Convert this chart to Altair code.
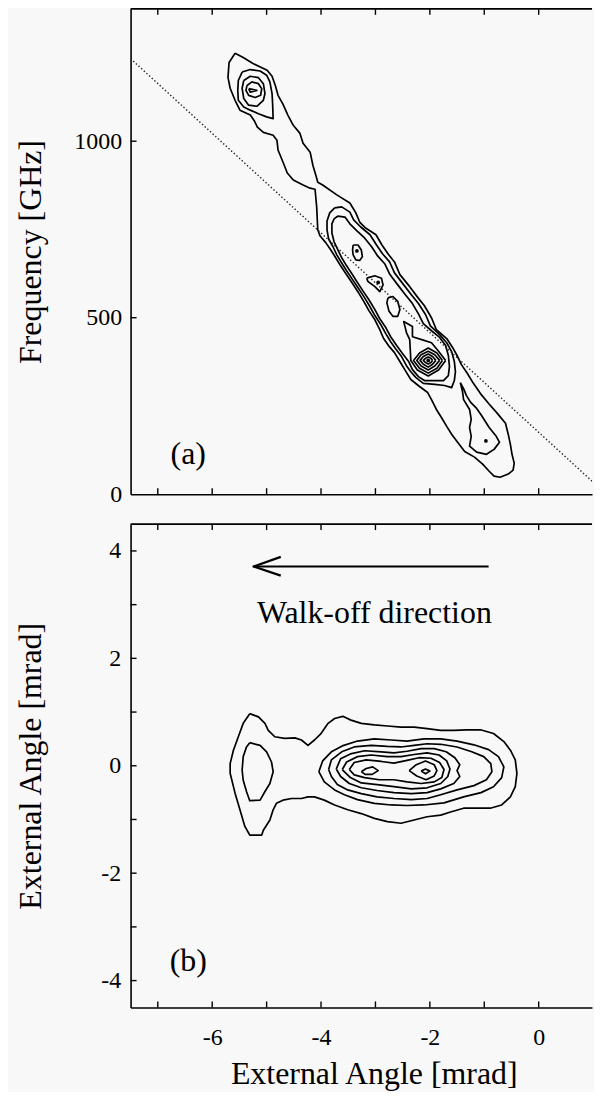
import altair as alt
import pandas as pd

FONT = "Liberation Serif"
W, HA, HB = 463, 487, 485

# ---------------- axes ----------------
x_domain = [-7.5, 0.98]
freq_domain = [0, 1375]
ang_domain = [-4.5, 4.5]
x_tick_marks = [-7, -6, -5, -4, -3, -2, -1, 0]
x_labels_b = [-6, -4, -2, 0]
freq_labels = [0, 500, 1000]
freq_tick_marks = [500, 1000]
ang_labels = [-4, -2, 0, 2, 4]
ang_tick_marks = [-4, -3, -2, -1, 0, 1, 2, 3, 4]

# ---------------- panel (a): contours (x in mrad, y in GHz) ----------------
a_outer_x = [-5.58, -5.43, -5.25, -4.99, -4.90, -4.84, -4.79, -4.70, -4.61, -4.51, -4.39, -4.33, -4.20, -4.15,
             -4.09, -4.06, -3.97, -3.71, -3.47, -3.36, -3.29, -3.18, -2.99, -2.88, -2.77, -2.65, -2.55, -2.37,
             -2.23, -2.10, -1.97, -1.88, -1.69, -1.58, -1.49, -1.42, -1.31, -1.20, -1.07, -0.92, -0.76, -0.61,
             -0.56, -0.52, -0.49, -0.45, -0.47, -0.56, -0.71, -0.82, -0.91, -1.03, -1.18, -1.36, -1.49, -1.60,
             -1.69, -1.79, -1.88, -1.97, -2.04, -2.19, -2.35, -2.45, -2.54, -2.65, -2.76, -2.85, -2.92, -3.01,
             -3.12, -3.21, -3.32, -3.43, -3.54, -3.64, -3.73, -3.82, -3.91, -4.02, -4.06, -4.08, -4.11, -4.20,
             -4.33, -4.51, -4.62, -4.70, -4.79, -4.81, -4.88, -5.06, -5.17, -5.23, -5.30, -5.49, -5.58, -5.67,
             -5.71, -5.69]
a_outer_y = [1249, 1237, 1220, 1201, 1184, 1158, 1130, 1105, 1074, 1045, 1023, 994, 969, 932, 901, 884, 876, 848,
             825, 797, 771, 754, 735, 706, 681, 658, 622, 588, 559, 534, 500, 466, 441, 415, 390, 367, 342, 314,
             285, 257, 229, 201, 170, 141, 113, 88, 68, 57, 48, 51, 65, 85, 105, 121, 147, 170, 192, 218, 240,
             268, 288, 305, 325, 350, 373, 401, 421, 441, 466, 494, 520, 545, 573, 599, 624, 647, 670, 692, 712,
             732, 749, 814, 864, 867, 876, 890, 910, 941, 975, 1003, 1017, 1025, 1040, 1059, 1074, 1088, 1116,
             1150, 1181, 1223]

a_top1_x = [-5.45, -5.30, -5.12, -5.00, -4.94, -4.90, -4.89, -4.88, -5.00, -5.15, -5.30, -5.42, -5.52, -5.53, -5.52]
a_top1_y = [1196, 1203, 1199, 1187, 1168, 1135, 1107, 1064, 1069, 1078, 1088, 1097, 1116, 1144, 1172]
a_top2_x = [-5.42, -5.30, -5.15, -5.06, -5.03, -5.06, -5.18, -5.33, -5.42, -5.45]
a_top2_y = [1172, 1184, 1180, 1163, 1135, 1116, 1099, 1102, 1121, 1150]
a_top3_x = [-5.36, -5.27, -5.15, -5.09, -5.11, -5.21, -5.33, -5.38]
a_top3_y = [1158, 1168, 1163, 1149, 1130, 1124, 1130, 1144]
a_top4_x = [-5.33, -5.18, -5.30]
a_top4_y = [1149, 1144, 1139]

a_band2_x = [-3.75, -3.62, -3.47, -3.40, -3.27, -3.10, -2.98, -2.87, -2.74, -2.65, -2.48, -2.34, -2.21, -2.08,
             -1.99, -1.82, -1.69, -1.60, -1.55, -1.53, -1.55, -1.60, -1.73, -1.91, -2.12, -2.26, -2.35, -2.43,
             -2.52, -2.63, -2.72, -2.81, -2.90, -3.01, -3.10, -3.21, -3.32, -3.43, -3.53, -3.62, -3.71, -3.78,
             -3.86, -3.89, -3.89, -3.84]
a_band2_y = [811, 814, 799, 777, 757, 735, 706, 681, 658, 627, 593, 565, 540, 509, 477, 452, 429, 404, 376, 347,
             322, 302, 308, 311, 314, 331, 347, 364, 390, 412, 432, 455, 480, 506, 531, 559, 585, 610, 633, 655,
             678, 701, 723, 749, 774, 797]
a_band3_x = [-3.69, -3.56, -3.47, -3.34, -3.20, -3.07, -2.96, -2.83, -2.74, -2.59, -2.45, -2.32, -2.21, -2.12,
             -1.97, -1.82, -1.71, -1.66, -1.64, -1.66, -1.75, -1.90, -2.10, -2.21, -2.32, -2.39, -2.50, -2.61,
             -2.72, -2.81, -2.92, -3.01, -3.12, -3.23, -3.34, -3.43, -3.53, -3.62, -3.69, -3.76, -3.80, -3.80,
             -3.76]
a_band3_y = [788, 785, 766, 746, 726, 701, 675, 653, 624, 593, 565, 540, 511, 483, 463, 444, 421, 393, 362, 336,
             322, 322, 322, 333, 353, 376, 398, 421, 446, 472, 497, 523, 551, 576, 602, 624, 647, 670, 692, 715,
             740, 766, 780]

a_loop1_x = [-3.41, -3.32, -3.26, -3.24, -3.29, -3.36, -3.41, -3.42]
a_loop1_y = [706, 706, 692, 673, 662, 664, 678, 692]
a_loop2_x = [-3.16, -3.01, -2.89, -2.86, -2.92, -3.01, -3.14]
a_loop2_y = [612, 619, 612, 593, 574, 588, 603]
a_loop3_x = [-2.77, -2.68, -2.59, -2.55, -2.59, -2.68, -2.75, -2.79]
a_loop3_y = [556, 560, 546, 523, 504, 504, 518, 542]

a_peak5_x = [-1.71, -1.84, -2.03, -2.23, -2.35, -2.36, -2.37, -2.43, -2.48, -2.32, -2.32, -2.15, -1.97, -1.84]
a_peak5_y = [379, 352, 335, 352, 379, 410, 438, 458, 489, 475, 446, 438, 429, 405]
a_peak4_x = [-1.77, -1.87, -2.03, -2.19, -2.30, -2.19, -2.03, -1.87]
a_peak4_y = [379, 357, 343, 357, 379, 400, 414, 400]
a_peak3_x = [-1.82, -1.91, -2.03, -2.16, -2.24, -2.16, -2.03, -1.91]
a_peak3_y = [379, 363, 352, 363, 379, 395, 405, 395]
a_peak2_x = [-1.89, -1.95, -2.03, -2.12, -2.18, -2.12, -2.03, -1.95]
a_peak2_y = [379, 368, 360, 368, 379, 390, 397, 390]
a_peak1_x = [-1.95, -1.98, -2.03, -2.08, -2.12, -2.08, -2.03, -1.98]
a_peak1_y = [379, 373, 369, 373, 379, 385, 389, 385]

a_tail_x = [-1.44, -1.40, -1.38, -1.27, -1.24, -1.27, -1.24, -1.27, -1.14, -0.96, -0.82, -0.72, -0.78, -0.91,
            -0.98, -1.05, -1.14, -1.25, -1.33, -1.38]
a_tail_y = [316, 291, 268, 240, 212, 189, 164, 136, 119, 113, 127, 147, 164, 189, 206, 223, 243, 260, 280, 299]

a_dots_x = [-3.34, -2.95, -2.03, -0.97]
a_dots_y = [689, 600, 379, 151]

# dotted reference line, read where it enters and leaves the visible frame
a_line_x = [-7.5, 0.98]
a_line_y = [1234, 37]

# ---------------- panel (b): contours (both axes in mrad) ----------------
b_outer_x = [-5.31, -5.15, -5.03, -4.97, -4.85, -4.67, -4.48, -4.36, -4.24, -4.12, -4.00, -3.87, -3.75, -3.60,
             -3.45, -3.26, -3.02, -2.78, -2.53, -2.29, -2.05, -1.80, -1.56, -1.32, -1.07, -0.83, -0.64, -0.52,
             -0.43, -0.40, -0.43, -0.52, -0.68, -0.89, -1.13, -1.38, -1.62, -1.80, -2.05, -2.29, -2.53, -2.78,
             -3.02, -3.26, -3.51, -3.75, -3.94, -4.12, -4.24, -4.36, -4.54, -4.70, -4.82, -4.88, -4.94, -5.06,
             -5.09, -5.31, -5.40, -5.49, -5.58, -5.67, -5.67, -5.61, -5.52, -5.43]
b_outer_y = [0.97, 0.91, 0.79, 0.66, 0.54, 0.51, 0.52, 0.48, 0.38, 0.48, 0.60, 0.79, 0.88, 0.92, 0.85, 0.79,
             0.76, 0.74, 0.72, 0.72, 0.69, 0.66, 0.66, 0.67, 0.67, 0.60, 0.45, 0.29, 0.11, -0.14, -0.39, -0.58,
             -0.73, -0.79, -0.79, -0.79, -0.86, -0.92, -0.95, -1.01, -1.07, -1.04, -0.98, -0.89, -0.82, -0.73,
             -0.64, -0.58, -0.58, -0.61, -0.61, -0.64, -0.70, -0.82, -1.01, -1.20, -1.29, -1.29, -1.13, -0.82,
             -0.51, -0.14, 0.04, 0.29, 0.54, 0.79]
b_lobe_x = [-5.31, -5.12, -5.00, -4.91, -4.88, -4.94, -5.03, -5.12, -5.31, -5.37, -5.43, -5.45, -5.43, -5.37]
b_lobe_y = [0.43, 0.38, 0.26, 0.07, -0.11, -0.33, -0.48, -0.64, -0.65, -0.48, -0.27, -0.08, 0.17, 0.35]
b_ring2_x = [-4.04, -3.97, -3.81, -3.61, -3.33, -3.02, -2.71, -2.42, -2.11, -1.80, -1.50, -1.19, -0.92, -0.74,
             -0.64, -0.68, -0.83, -1.06, -1.38, -1.74, -2.11, -2.42, -2.71, -3.02, -3.33, -3.57, -3.75, -3.94]
b_ring2_y = [-0.11, 0.09, 0.26, 0.37, 0.46, 0.50, 0.48, 0.46, 0.50, 0.50, 0.46, 0.39, 0.30, 0.17, -0.02, -0.22,
             -0.39, -0.50, -0.58, -0.69, -0.73, -0.74, -0.73, -0.70, -0.63, -0.54, -0.45, -0.30]
b_ring3_x = [-3.86, -3.81, -3.62, -3.39, -3.08, -2.78, -2.53, -2.29, -2.05, -1.80, -1.50, -1.23, -1.01, -0.88,
             -0.86, -0.96, -1.19, -1.50, -1.80, -2.05, -2.34, -2.66, -2.97, -3.26, -3.51, -3.70, -3.81]
b_ring3_y = [-0.07, 0.11, 0.26, 0.35, 0.38, 0.36, 0.35, 0.38, 0.41, 0.40, 0.35, 0.26, 0.17, 0.04, -0.11, -0.26,
             -0.37, -0.45, -0.54, -0.61, -0.63, -0.61, -0.58, -0.52, -0.45, -0.35, -0.20]
b_ring4_x = [-3.72, -3.64, -3.46, -3.20, -2.89, -2.66, -2.42, -2.16, -1.92, -1.70, -1.54, -1.45, -1.50, -1.45,
             -1.56, -1.80, -2.05, -2.34, -2.66, -2.97, -3.26, -3.48, -3.64]
b_ring4_y = [-0.06, 0.13, 0.22, 0.28, 0.26, 0.24, 0.27, 0.32, 0.32, 0.26, 0.15, 0.02, -0.09, -0.20, -0.33, -0.43,
             -0.50, -0.52, -0.50, -0.46, -0.41, -0.33, -0.20]
b_ring5_x = [-3.61, -3.53, -3.33, -3.08, -2.78, -2.53, -2.29, -2.05, -1.83, -1.69, -1.63, -1.67, -1.80, -2.05,
             -2.34, -2.66, -2.97, -3.26, -3.46]
b_ring5_y = [-0.07, 0.07, 0.17, 0.20, 0.17, 0.17, 0.21, 0.24, 0.20, 0.09, -0.06, -0.20, -0.33, -0.41, -0.43,
             -0.39, -0.35, -0.32, -0.22]
b_ring6_x = [-3.48, -3.39, -3.17, -2.89, -2.66, -2.42, -2.20, -1.98, -1.82, -1.74, -1.78, -1.92, -2.16, -2.42,
             -2.66, -2.93, -3.20, -3.39]
b_ring6_y = [-0.07, 0.06, 0.11, 0.08, 0.05, 0.10, 0.15, 0.14, 0.06, -0.07, -0.22, -0.30, -0.33, -0.30, -0.26,
             -0.26, -0.22, -0.17]
b_peakR_x = [-2.38, -2.25, -2.08, -1.92, -1.87, -1.92, -2.07, -2.24]
b_peakR_y = [-0.09, 0.02, 0.09, 0.02, -0.09, -0.19, -0.26, -0.19]
b_peakR2_x = [-2.16, -2.08, -2.00, -2.08]
b_peakR2_y = [-0.10, -0.06, -0.10, -0.15]
b_peakL_x = [-3.26, -3.17, -3.05, -2.95, -3.06, -3.19]
b_peakL_y = [-0.11, -0.05, -0.02, -0.09, -0.16, -0.16]

arrow_shaft_x = [-0.92, -5.24]
arrow_shaft_y = [3.71, 3.71]
arrow_head_x = [-4.74, -5.24, -4.74]
arrow_head_y = [3.89, 3.71, 3.54]

labels_a = {"t": ["(a)"], "x": [-6.44], "y": [85]}
labels_b = {"t": ["(b)", "Walk-off direction"], "x": [-6.44, -3.02], "y": [-3.82, 2.66]}


def contour_frame(contours):
    rows = []
    for name, cx, cy in contours:
        pts = list(zip(cx, cy))
        pts.append(pts[0])
        for i, (px, py) in enumerate(pts):
            rows.append({"cid": name, "i": i, "x": px, "y": py})
    return pd.DataFrame(rows)


df_a = contour_frame([
    ("outer", a_outer_x, a_outer_y), ("t1", a_top1_x, a_top1_y), ("t2", a_top2_x, a_top2_y),
    ("t3", a_top3_x, a_top3_y), ("t4", a_top4_x, a_top4_y), ("b2", a_band2_x, a_band2_y),
    ("b3", a_band3_x, a_band3_y), ("l1", a_loop1_x, a_loop1_y), ("l2", a_loop2_x, a_loop2_y),
    ("l3", a_loop3_x, a_loop3_y), ("p5", a_peak5_x, a_peak5_y), ("p4", a_peak4_x, a_peak4_y),
    ("p3", a_peak3_x, a_peak3_y), ("p2", a_peak2_x, a_peak2_y), ("p1", a_peak1_x, a_peak1_y),
    ("tail", a_tail_x, a_tail_y),
])
df_b = contour_frame([
    ("outer", b_outer_x, b_outer_y), ("lobe", b_lobe_x, b_lobe_y), ("r2", b_ring2_x, b_ring2_y),
    ("r3", b_ring3_x, b_ring3_y), ("r4", b_ring4_x, b_ring4_y), ("r5", b_ring5_x, b_ring5_y),
    ("r6", b_ring6_x, b_ring6_y), ("pr", b_peakR_x, b_peakR_y), ("pr2", b_peakR2_x, b_peakR2_y),
    ("pl", b_peakL_x, b_peakL_y),
])

xs = alt.Scale(domain=x_domain, nice=False, zero=False)
ya = alt.Scale(domain=freq_domain, nice=False, zero=False)
yb = alt.Scale(domain=ang_domain, nice=False, zero=False)

axis_common = dict(grid=False, ticks=False, domainColor="black", domainWidth=1.6,
                   labelColor="black", labelFont=FONT, labelFontSize=24, titleFont=FONT,
                   titleFontSize=32, titleFontWeight="normal", titleColor="black")

# identical axis definitions are reused in every layer of a panel so they merge cleanly
ax_xa = alt.Axis(title=None, labels=False, **axis_common)
ax_ya = alt.Axis(title="Frequency [GHz]", values=freq_labels, labelExpr="'' + datum.value",
                 labelPadding=9, titleX=-90, titleBaseline="alphabetic", **axis_common)
ax_xb = alt.Axis(title="External Angle [mrad]", values=x_labels_b, labelExpr="'' + datum.value",
                 labelPadding=18, titleX=244, titleY=76, titleBaseline="alphabetic", **axis_common)
ax_yb = alt.Axis(title="External Angle [mrad]", values=ang_labels, labelExpr="'' + datum.value",
                 labelPadding=10, titleX=-90, titleBaseline="alphabetic", **axis_common)


def enc_x(ax):
    return alt.X("x:Q", scale=xs, axis=ax)


def enc_y(scale, ax):
    return alt.Y("y:Q", scale=scale, axis=ax)


def frame_layers(yscale, H, y_ticks, axx, axy):
    one = pd.DataFrame({"k": [0]})
    xt = pd.DataFrame({"x": x_tick_marks})
    yt = pd.DataFrame({"y": y_ticks})
    top = alt.Chart(one).mark_rule(color="black", strokeWidth=1.6).encode(
        x=alt.value(0), x2=alt.value(W), y=alt.value(0))
    tt = alt.Chart(xt).mark_rule(color="black", strokeWidth=1.4).encode(
        x=enc_x(axx), y=alt.value(0), y2=alt.value(6))
    bt = alt.Chart(xt).mark_rule(color="black", strokeWidth=1.4).encode(
        x=enc_x(axx), y=alt.value(H - 6), y2=alt.value(H))
    lt = alt.Chart(yt).mark_rule(color="black", strokeWidth=1.4).encode(
        y=enc_y(yscale, axy), x=alt.value(0), x2=alt.value(6))
    return [top, tt, bt, lt]


# ---------- panel (a) ----------
lines_a = alt.Chart(df_a).mark_line(color="black", strokeWidth=1.7, strokeJoin="round", clip=True).encode(
    x=enc_x(ax_xa), y=enc_y(ya, ax_ya), detail="cid:N", order=alt.Order("i:Q"))
dotted_a = alt.Chart(pd.DataFrame({"x": a_line_x, "y": a_line_y})).mark_line(
    color="#222222", strokeWidth=1.4, strokeDash=[1.4, 2.2], clip=True).encode(
    x=enc_x(ax_xa), y=enc_y(ya, ax_ya))
dots_a = alt.Chart(pd.DataFrame({"x": a_dots_x, "y": a_dots_y})).mark_circle(
    size=14, color="black", opacity=1).encode(x=enc_x(ax_xa), y=enc_y(ya, ax_ya))
text_a = alt.Chart(pd.DataFrame(labels_a)).mark_text(
    font=FONT, fontSize=32, align="center", baseline="alphabetic", color="black").encode(
    x=enc_x(ax_xa), y=enc_y(ya, ax_ya), text="t:N")

panel_a = alt.layer(lines_a, dotted_a, dots_a, text_a,
                    *frame_layers(ya, HA, freq_tick_marks, ax_xa, ax_ya)).properties(width=W, height=HA)

# ---------- panel (b) ----------
lines_b = alt.Chart(df_b).mark_line(color="black", strokeWidth=1.7, strokeJoin="round", clip=True).encode(
    x=enc_x(ax_xb), y=enc_y(yb, ax_yb), detail="cid:N", order=alt.Order("i:Q"))
arrow_df = pd.DataFrame(
    [{"part": "shaft", "i": i, "x": x, "y": y} for i, (x, y) in enumerate(zip(arrow_shaft_x, arrow_shaft_y))]
    + [{"part": "head", "i": i, "x": x, "y": y} for i, (x, y) in enumerate(zip(arrow_head_x, arrow_head_y))]
)
arrow_b = alt.Chart(arrow_df).mark_line(color="black", strokeWidth=2.2, strokeJoin="round").encode(
    x=enc_x(ax_xb), y=enc_y(yb, ax_yb), detail="part:N", order=alt.Order("i:Q"))
text_b = alt.Chart(pd.DataFrame(labels_b)).mark_text(
    font=FONT, fontSize=32, align="center", baseline="alphabetic", color="black").encode(
    x=enc_x(ax_xb), y=enc_y(yb, ax_yb), text="t:N")

panel_b = alt.layer(lines_b, arrow_b, text_b,
                    *frame_layers(yb, HB, ang_tick_marks, ax_xb, ax_yb)).properties(width=W, height=HB)

chart = alt.vconcat(panel_a, panel_b, spacing=15).properties(
    padding={"left": 6, "top": -3, "right": 0, "bottom": 0},
    background="#f8f8f8",
).configure_view(stroke="transparent")

chart.save("out.html", embed_options={"renderer": "svg", "actions": False})
